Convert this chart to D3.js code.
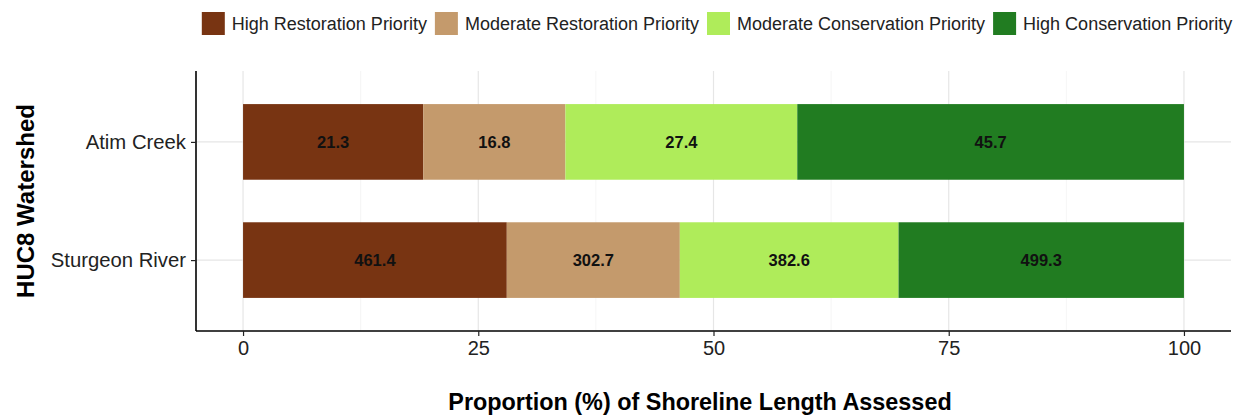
<!DOCTYPE html>
<html>
<head>
<meta charset="utf-8">
<script src="https://cdn.jsdelivr.net/npm/d3@7"></script>
<style>
  html, body { margin: 0; padding: 0; background: #fff; }
  svg { display: block; font-family: "Liberation Sans", Arial, sans-serif; }
</style>
</head>
<body>
<svg id="chart" width="1248" height="416"></svg>
<script>
// Watersheds (y categories)
const watersheds = ["Atim Creek", "Sturgeon River"];

// Priority classes, left to right in each stacked bar
const priorities = [
  "High Restoration Priority",
  "Moderate Restoration Priority",
  "Moderate Conservation Priority",
  "High Conservation Priority"
];

// Shoreline length assessed in each class, per watershed (same order as watersheds)
const highRestoration = [21.3, 461.4];
const moderateRestoration = [16.8, 302.7];
const moderateConservation = [27.4, 382.6];
const highConservation = [45.7, 499.3];

// X axis tick values
const xTicks = [0, 25, 50, 75, 100];
const xMinorTicks = [12.5, 37.5, 62.5, 87.5];

const colors = ["#783412", "#c49a6c", "#afec5a", "#217c21"];

// Build rows: length per class, then convert each to a share of the watershed total
const lengthsBySeries = [highRestoration, moderateRestoration, moderateConservation, highConservation];
const rows = watersheds.map((w, i) => {
  const row = { watershed: w };
  const total = d3.sum(lengthsBySeries, s => s[i]);
  priorities.forEach((p, k) => {
    row[p] = lengthsBySeries[k][i] / total * 100;
    row[p + "__len"] = lengthsBySeries[k][i];
  });
  return row;
});

const stacked = d3.stack().keys(priorities)(rows);

const svg = d3.select("#chart");
const panel = { left: 196, right: 1231, top: 71, bottom: 331 };

const x = d3.scaleLinear().domain([-5, 105]).range([panel.left, panel.right]);
const y = d3.scalePoint().domain(watersheds).range([panel.top, panel.bottom]).padding(0.6);
const barH = y.step() * 0.64;

// Grid
const grid = svg.append("g");
grid.selectAll("line.minor").data(xMinorTicks).join("line")
  .attr("x1", d => x(d)).attr("x2", d => x(d))
  .attr("y1", panel.top).attr("y2", panel.bottom)
  .attr("stroke", "#f2f2f2").attr("stroke-width", 0.8);
grid.selectAll("line.major").data(xTicks).join("line")
  .attr("x1", d => x(d)).attr("x2", d => x(d))
  .attr("y1", panel.top).attr("y2", panel.bottom)
  .attr("stroke", "#e6e6e6").attr("stroke-width", 1.2);
grid.selectAll("line.hmajor").data(watersheds).join("line")
  .attr("x1", panel.left).attr("x2", panel.right)
  .attr("y1", d => y(d)).attr("y2", d => y(d))
  .attr("stroke", "#e6e6e6").attr("stroke-width", 1.2);

// Bars
const layers = svg.append("g").selectAll("g").data(stacked).join("g")
  .attr("fill", (d, i) => colors[i]);
layers.selectAll("rect").data(d => d.map(v => ({ v, key: d.key }))).join("rect")
  .attr("x", d => x(d.v[0]))
  .attr("width", d => x(d.v[1]) - x(d.v[0]))
  .attr("y", d => y(d.v.data.watershed) - barH / 2)
  .attr("height", barH);

// Value labels (shoreline length) centred in each segment
layers.selectAll("text").data(d => d.map(v => ({ v, key: d.key }))).join("text")
  .attr("x", d => x((d.v[0] + d.v[1]) / 2))
  .attr("y", d => y(d.v.data.watershed))
  .attr("dy", "0.35em")
  .attr("text-anchor", "middle")
  .attr("fill", "#111")
  .attr("font-size", 16.5)
  .attr("font-weight", "bold")
  .text(d => d3.format(".1f")(d.v.data[d.key + "__len"]));

// Axes
const xAxis = d3.axisBottom(x).tickValues(xTicks).tickSize(5).tickPadding(5).tickFormat(d3.format("d"));
const gx = svg.append("g").attr("transform", `translate(0,${panel.bottom})`).call(xAxis);
gx.select(".domain").attr("d", `M${panel.left},0H${panel.right}`).attr("stroke", "#000").attr("stroke-width", 1.6);
gx.selectAll(".tick line").attr("stroke", "#222").attr("stroke-width", 1.2);
gx.selectAll(".tick text").attr("font-size", 20).attr("fill", "#222")
  .attr("font-family", "Liberation Sans, Arial, sans-serif");

const yAxis = d3.axisLeft(y).tickSize(5).tickPadding(5);
const gy = svg.append("g").attr("transform", `translate(${panel.left},0)`).call(yAxis);
gy.select(".domain").attr("d", `M0,${panel.top}V${panel.bottom}`).attr("stroke", "#000").attr("stroke-width", 1.6);
gy.selectAll(".tick line").attr("stroke", "#222").attr("stroke-width", 1.2);
gy.selectAll(".tick text").attr("font-size", 20.3).attr("fill", "#222")
  .attr("font-family", "Liberation Sans, Arial, sans-serif");

// Axis titles
svg.append("text")
  .attr("x", 700)
  .attr("y", 410)
  .attr("text-anchor", "middle")
  .attr("font-size", 23.4)
  .attr("font-weight", "bold")
  .attr("fill", "#000")
  .text("Proportion (%) of Shoreline Length Assessed");

svg.append("text")
  .attr("transform", `translate(34,${(panel.top + panel.bottom) / 2}) rotate(-90)`)
  .attr("text-anchor", "middle")
  .attr("font-size", 24)
  .attr("font-weight", "bold")
  .attr("fill", "#000")
  .text("HUC8 Watershed");

// Legend along the top
const legend = svg.append("g");
const keySize = 23, keyGap = 7, itemGap = 8, fontSize = 18;
const items = legend.selectAll("g").data(priorities).join("g");
items.append("rect")
  .attr("width", keySize).attr("height", keySize)
  .attr("y", 12)
  .attr("fill", (d, i) => colors[i]);
items.append("text")
  .attr("x", keySize + keyGap)
  .attr("y", 23.5)
  .attr("dy", "0.35em")
  .attr("font-size", fontSize)
  .attr("fill", "#222")
  .text(d => d);
let cursor = 0;
const offsets = [];
items.each(function () {
  offsets.push(cursor);
  const w = d3.select(this).select("text").node().getComputedTextLength();
  cursor += keySize + keyGap + w + itemGap;
});
const totalW = cursor - itemGap;
const legendX = 717 - totalW / 2;
items.attr("transform", (d, i) => `translate(${legendX + offsets[i]},0)`);
</script>
</body>
</html>
